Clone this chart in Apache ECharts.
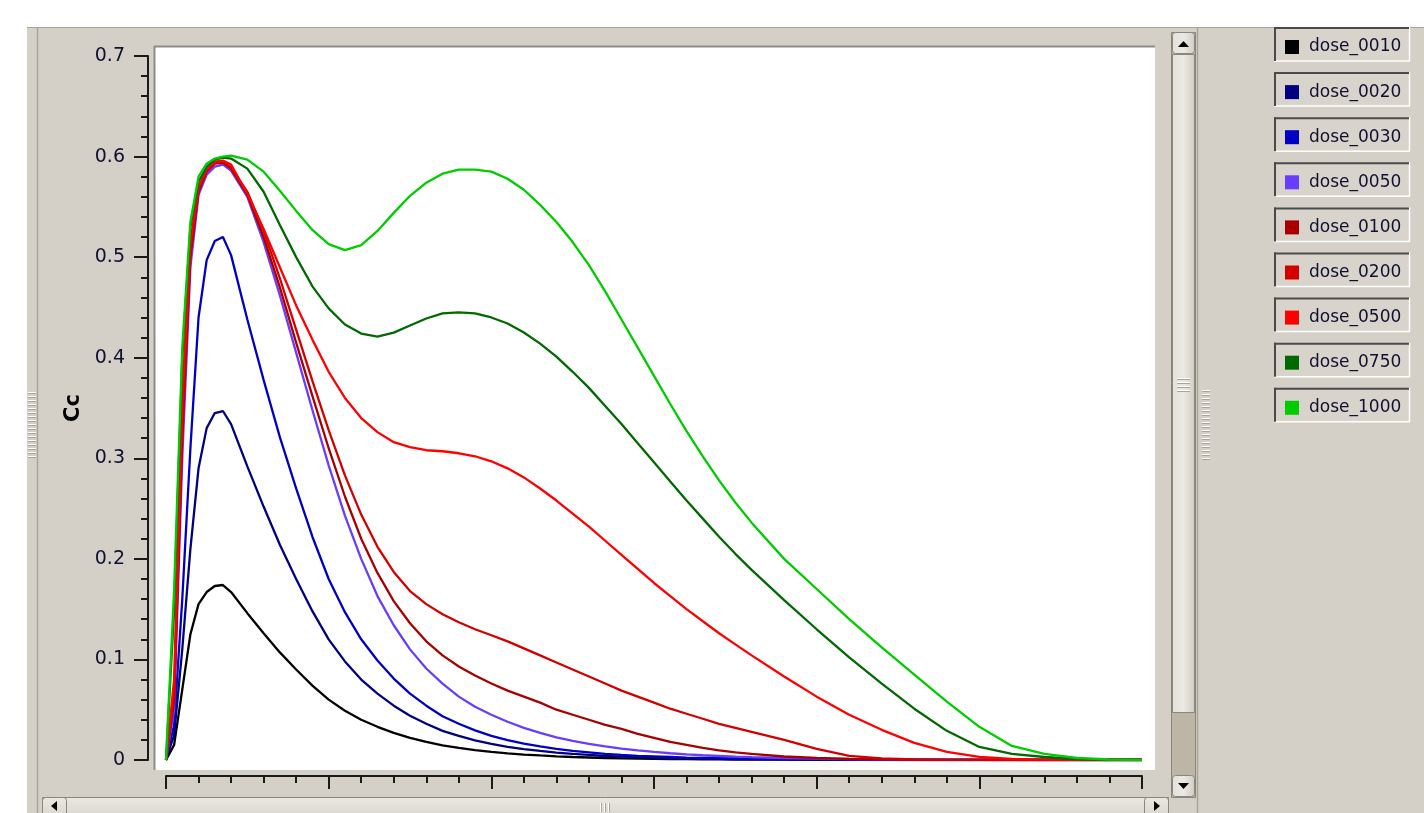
<!DOCTYPE html>
<html>
<head>
<meta charset="utf-8">
<script src="https://cdn.jsdelivr.net/npm/echarts@6/dist/echarts.min.js"></script>
<style>
html,body{margin:0;padding:0;background:#fff;}
#chart{width:1424px;height:813px;}
</style>
</head>
<body>
<div id="chart"></div>
<script>
// ---- data ----
const X = [0, 0.05, 0.1, 0.15, 0.2, 0.25, 0.3, 0.35, 0.4, 0.5, 0.6, 0.7, 0.8, 0.9, 1.0, 1.1, 1.2, 1.3, 1.4, 1.5, 1.6, 1.7, 1.8, 1.9, 2.0, 2.1, 2.2, 2.3, 2.4, 2.5, 2.6, 2.7, 2.8, 2.9, 3.0, 3.1, 3.2, 3.3, 3.4, 3.5, 3.6, 3.8, 4.0, 4.2, 4.4, 4.6, 4.8, 5.0, 5.2, 5.4, 5.6, 5.8, 6.0];

const dose_0010 = [0, 0.015, 0.07, 0.125, 0.155, 0.167, 0.173, 0.174, 0.167, 0.146, 0.126, 0.107, 0.09, 0.074, 0.06, 0.049, 0.04, 0.033, 0.027, 0.022, 0.018, 0.0145, 0.012, 0.0098, 0.008, 0.0066, 0.0054, 0.0045, 0.0037, 0.003, 0.0025, 0.002, 0.0017, 0.0014, 0.0012, 0.001, 0.0008, 0.0007, 0.0006, 0.0005, 0.0004, 0.0003, 0.0002, 0.0001, 0, 0, 0, 0, 0, 0, 0, 0, 0];
const dose_0020 = [0, 0.025, 0.11, 0.21, 0.29, 0.33, 0.345, 0.347, 0.334, 0.292, 0.252, 0.214, 0.18, 0.148, 0.12, 0.098, 0.08, 0.066, 0.054, 0.044, 0.036, 0.029, 0.024, 0.0196, 0.016, 0.013, 0.0108, 0.009, 0.0074, 0.006, 0.005, 0.004, 0.0034, 0.0028, 0.0024, 0.002, 0.0016, 0.0014, 0.0012, 0.001, 0.0008, 0.0006, 0.0004, 0.0002, 0.0001, 0, 0, 0, 0, 0, 0, 0, 0];
const dose_0030 = [0, 0.035, 0.16, 0.31, 0.44, 0.497, 0.516, 0.52, 0.502, 0.438, 0.378, 0.321, 0.27, 0.222, 0.18, 0.147, 0.12, 0.099, 0.081, 0.066, 0.054, 0.0435, 0.036, 0.0294, 0.024, 0.0198, 0.0162, 0.0135, 0.011, 0.009, 0.0075, 0.006, 0.005, 0.0042, 0.0036, 0.003, 0.0024, 0.0021, 0.0018, 0.0015, 0.0012, 0.0009, 0.0006, 0.0003, 0.0002, 0.0001, 0, 0, 0, 0, 0, 0, 0];
const dose_0050 = [0, 0.05, 0.3, 0.49, 0.562, 0.582, 0.59, 0.592, 0.586, 0.56, 0.515, 0.462, 0.405, 0.348, 0.293, 0.243, 0.2, 0.163, 0.134, 0.11, 0.091, 0.076, 0.063, 0.053, 0.045, 0.038, 0.032, 0.027, 0.0225, 0.019, 0.016, 0.0135, 0.0113, 0.0095, 0.008, 0.0067, 0.0056, 0.0047, 0.004, 0.0033, 0.0028, 0.002, 0.0014, 0.001, 0.0007, 0.0005, 0.0003, 0.0002, 0.0001, 0, 0, 0, 0];
const dose_0100 = [0, 0.06, 0.32, 0.5, 0.565, 0.585, 0.593, 0.594, 0.588, 0.562, 0.52, 0.47, 0.415, 0.362, 0.31, 0.262, 0.22, 0.186, 0.158, 0.136, 0.118, 0.104, 0.093, 0.084, 0.076, 0.069, 0.063, 0.057, 0.05, 0.045, 0.04, 0.035, 0.031, 0.026, 0.022, 0.018, 0.015, 0.012, 0.0095, 0.0075, 0.006, 0.0035, 0.002, 0.0012, 0.0007, 0.0004, 0.0002, 0.0001, 0, 0, 0, 0, 0];
const dose_0200 = [0, 0.065, 0.33, 0.505, 0.567, 0.586, 0.594, 0.595, 0.589, 0.565, 0.526, 0.479, 0.428, 0.377, 0.328, 0.283, 0.244, 0.212, 0.187, 0.168, 0.155, 0.145, 0.137, 0.13, 0.124, 0.118, 0.111, 0.104, 0.097, 0.09, 0.083, 0.076, 0.069, 0.063, 0.057, 0.051, 0.046, 0.041, 0.036, 0.032, 0.028, 0.02, 0.011, 0.004, 0.0015, 0.0006, 0.0002, 0.0001, 0, 0, 0, 0, 0];
const dose_0500 = [0, 0.08, 0.36, 0.515, 0.57, 0.587, 0.595, 0.596, 0.592, 0.563, 0.528, 0.49, 0.452, 0.418, 0.386, 0.36, 0.34, 0.326, 0.316, 0.311, 0.308, 0.307, 0.305, 0.302, 0.297, 0.29, 0.281, 0.27, 0.258, 0.245, 0.232, 0.218, 0.204, 0.19, 0.176, 0.163, 0.15, 0.138, 0.126, 0.115, 0.104, 0.083, 0.063, 0.045, 0.03, 0.017, 0.008, 0.003, 0.0012, 0.0004, 0.0001, 0, 0];
const dose_0750 = [0, 0.15, 0.4, 0.53, 0.575, 0.59, 0.597, 0.599, 0.598, 0.588, 0.565, 0.532, 0.5, 0.471, 0.449, 0.433, 0.424, 0.421, 0.425, 0.432, 0.439, 0.444, 0.445, 0.444, 0.44, 0.434, 0.425, 0.414, 0.401, 0.386, 0.37, 0.352, 0.334, 0.315, 0.296, 0.277, 0.258, 0.24, 0.222, 0.205, 0.189, 0.159, 0.13, 0.102, 0.076, 0.051, 0.029, 0.013, 0.006, 0.003, 0.001, 0.0003, 0];
const dose_1000 = [0, 0.17, 0.41, 0.535, 0.58, 0.593, 0.598, 0.6, 0.601, 0.597, 0.585, 0.566, 0.546, 0.527, 0.513, 0.507, 0.512, 0.526, 0.544, 0.561, 0.574, 0.583, 0.587, 0.587, 0.585, 0.578, 0.567, 0.552, 0.535, 0.515, 0.492, 0.466, 0.438, 0.41, 0.382, 0.354, 0.327, 0.302, 0.278, 0.256, 0.236, 0.2, 0.17, 0.14, 0.112, 0.085, 0.058, 0.033, 0.014, 0.006, 0.002, 0.0005, 0];

const seriesNames = ['dose_0010', 'dose_0020', 'dose_0030', 'dose_0050', 'dose_0100', 'dose_0200', 'dose_0500', 'dose_0750', 'dose_1000'];
const seriesValues = [dose_0010, dose_0020, dose_0030, dose_0050, dose_0100, dose_0200, dose_0500, dose_0750, dose_1000];
const seriesColors = ['#000000', '#000080', '#0000c4', '#6a3cff', '#a80000', '#d40000', '#ff0000', '#006a00', '#00cc00'];

const yTicks = [0, 0.1, 0.2, 0.3, 0.4, 0.5, 0.6, 0.7];
const yName = 'Cc';

// ---- chrome helpers ----
const BG = '#d4d0c8';
function rect(x, y, w, h, fill, stroke, z) {
  return { type: 'rect', silent: true, z: z === undefined ? -10 : z,
    shape: { x: x, y: y, width: w, height: h },
    style: { fill: fill, stroke: stroke || null, lineWidth: 1 } };
}
function ln(x1, y1, x2, y2, color, w, z) {
  return { type: 'line', silent: true, z: z === undefined ? -9 : z,
    shape: { x1: x1, y1: y1, x2: x2, y2: y2 },
    style: { stroke: color, lineWidth: w || 1 } };
}
function tri(points, z) {
  return { type: 'polygon', silent: true, z: z === undefined ? -8 : z,
    shape: { points: points }, style: { fill: '#000' } };
}
function grip(x1, x2, y1, y2, horizontal) {
  const out = [];
  if (horizontal) {
    for (let y = y1; y < y2; y += 4) {
      out.push(ln(x1, y + 0.5, x2, y + 0.5, '#ffffff', 1));
      out.push(ln(x1, y + 1.5, x2, y + 1.5, '#a8a49c', 1));
    }
  } else {
    for (let x = x1; x < x2; x += 4) {
      out.push(ln(x + 0.5, y1, x + 0.5, y2, '#ffffff', 1));
      out.push(ln(x + 1.5, y1, x + 1.5, y2, '#a8a49c', 1));
    }
  }
  return out;
}

const thumbGrad = { type: 'linear', x: 0, y: 0, x2: 1, y2: 0,
  colorStops: [{ offset: 0, color: '#e4e1da' }, { offset: 0.5, color: '#ebe9e3' }, { offset: 1, color: '#d0ccc3' }] };
const hGrad = { type: 'linear', x: 0, y: 0, x2: 0, y2: 1,
  colorStops: [{ offset: 0, color: '#ebe9e3' }, { offset: 1, color: '#d8d4cc' }] };

const els = [];
// panel
els.push(rect(27, 27, 1397, 786, BG));
els.push(ln(27, 27.5, 1424, 27.5, '#a8a49c', 1));
els.push(ln(37.5, 27, 37.5, 813, '#a8a49c', 1.5));
// plot white area
els.push(rect(155, 46, 1000, 724, '#ffffff'));
els.push(ln(154, 46.5, 1155, 46.5, '#8c8c8c', 2));
els.push(ln(154.5, 46, 154.5, 770, '#8c8c8c', 2));
// vertical scrollbar
els.push(rect(1171.5, 32.5, 24, 765, '#bdb6a6', '#8a867e'));
els.push({ type: 'rect', silent: true, z: -9, shape: { x: 1172.5, y: 54.5, width: 22, height: 658 }, style: { fill: thumbGrad, stroke: '#8a867e', lineWidth: 1 } });
els.push({ type: 'rect', silent: true, z: -9, shape: { x: 1172.5, y: 32.5, width: 22, height: 21, r: 3 }, style: { fill: thumbGrad, stroke: '#8a867e', lineWidth: 1 } });
els.push({ type: 'rect', silent: true, z: -9, shape: { x: 1172.5, y: 775.5, width: 22, height: 21, r: 3 }, style: { fill: thumbGrad, stroke: '#8a867e', lineWidth: 1 } });
els.push(tri([[1178, 47], [1189, 47], [1183.5, 41]]));
els.push(tri([[1178, 783], [1189, 783], [1183.5, 789]]));
grip(1177, 1190, 378, 392, true).forEach(e => els.push(e));
els.push(ln(1197.5, 27, 1197.5, 813, '#a8a49c', 1.5));
// side grips
grip(1202, 1210, 390, 462, true).forEach(e => els.push(e));
grip(28, 36, 392, 458, true).forEach(e => els.push(e));
// horizontal scrollbar
els.push({ type: 'rect', silent: true, z: -9, shape: { x: 42.5, y: 797.5, width: 1126, height: 20 }, style: { fill: hGrad, stroke: '#8a867e', lineWidth: 1 } });
els.push({ type: 'rect', silent: true, z: -9, shape: { x: 42.5, y: 797.5, width: 24, height: 20, r: 3 }, style: { fill: hGrad, stroke: '#8a867e', lineWidth: 1 } });
els.push({ type: 'rect', silent: true, z: -9, shape: { x: 1144.5, y: 797.5, width: 24, height: 20, r: 3 }, style: { fill: hGrad, stroke: '#8a867e', lineWidth: 1 } });
els.push(tri([[57, 801], [57, 811], [51, 806]]));
els.push(tri([[1154, 801], [1154, 811], [1160, 806]]));
grip(600, 612, 803, 812, false).forEach(e => els.push(e));

// legend boxes (one per series)
const LEG_TOP = 27, LEG_PITCH = 45.1, LEG_ITEM_H = 17;
seriesNames.forEach((n, i) => {
  const y0 = LEG_TOP + i * LEG_PITCH;
  els.push(rect(1274, y0, 136, 34, '#d8d4cc', null, 1));
  els.push(ln(1274, y0 + 34, 1410, y0 + 34, '#ffffff', 1.5, 2));
  els.push(ln(1409.5, y0, 1409.5, y0 + 34, '#ffffff', 1.5, 2));
  els.push(ln(1274, y0 + 1, 1409, y0 + 1, '#4a4a4a', 2, 2));
  els.push(ln(1275, y0, 1275, y0 + 34, '#4a4a4a', 2, 2));
});

const FONT = 'DejaVu Sans';

const option = {
  animation: false,
  backgroundColor: '#ffffff',
  graphic: { elements: els },
  grid: { left: 166, right: 282, top: 56, bottom: 53, containLabel: false },
  legend: {
    orient: 'vertical', left: 1285, top: LEG_TOP + 20 - LEG_ITEM_H / 2,
    padding: 0,
    itemWidth: 14, itemHeight: 14, itemGap: LEG_PITCH - LEG_ITEM_H,
    icon: 'rect', selectedMode: false,
    data: seriesNames,
    textStyle: { fontFamily: FONT, fontSize: 17, color: '#101030', padding: [0, 0, 0, 5] }
  },
  xAxis: {
    type: 'value', min: 0, max: 6, interval: 1,
    offset: 16,
    axisLine: { onZero: false, lineStyle: { color: '#1a1a1a', width: 2 } },
    axisTick: { length: 13, lineStyle: { color: '#1a1a1a', width: 2 } },
    minorTick: { show: true, splitNumber: 5, length: 7, lineStyle: { color: '#1a1a1a', width: 2 } },
    axisLabel: { show: false },
    splitLine: { show: false }
  },
  yAxis: {
    type: 'value', min: yTicks[0], max: yTicks[yTicks.length - 1], interval: 0.1,
    offset: 18,
    name: yName, nameLocation: 'middle', nameGap: 57,
    nameTextStyle: { fontFamily: FONT, fontSize: 21, fontWeight: 'bold', color: '#000' },
    axisLine: { show: true, onZero: false, lineStyle: { color: '#1a1a1a', width: 2 } },
    axisTick: { length: 14, lineStyle: { color: '#1a1a1a', width: 2 } },
    minorTick: { show: true, splitNumber: 5, length: 7, lineStyle: { color: '#1a1a1a', width: 2 } },
    axisLabel: { margin: 23, fontFamily: FONT, fontSize: 19, color: '#101030',
      formatter: v => String(Math.round(v * 10) / 10) },
    splitLine: { show: false }
  },
  series: seriesNames.map((n, i) => ({
    name: n, type: 'line', showSymbol: false, symbol: 'none',
    color: seriesColors[i],
    lineStyle: { width: 2.3, color: seriesColors[i] },
    data: X.map((x, k) => [x, seriesValues[i][k]])
  }))
};

const chart = echarts.init(document.getElementById('chart'), null, { renderer: 'canvas' });
chart.setOption(option);
</script>
</body>
</html>
